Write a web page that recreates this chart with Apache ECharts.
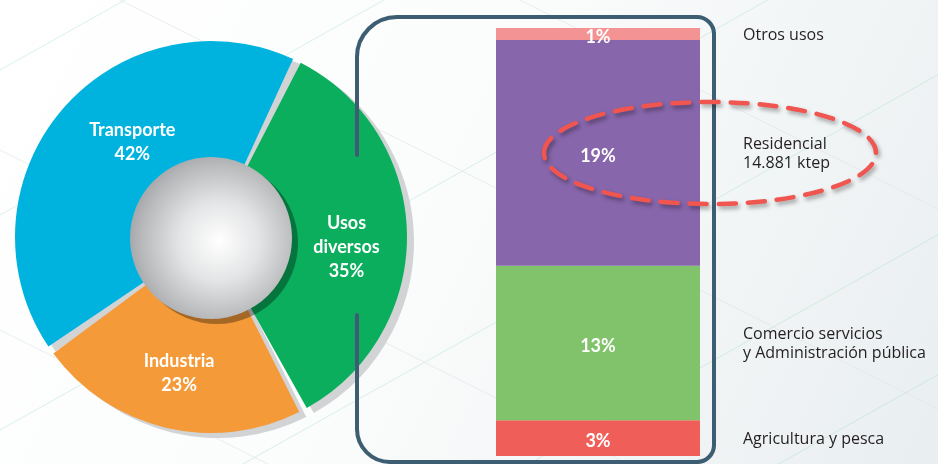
<!DOCTYPE html>
<html>
<head>
<meta charset="utf-8">
<script src="https://cdn.jsdelivr.net/npm/echarts@6/dist/echarts.min.js"></script>
<style>
  html, body { margin: 0; padding: 0; background: #ffffff; }
  #chart { width: 938px; height: 464px; }
</style>
</head>
<body>
<div id="chart"></div>
<script>
// Consumo final de energía por sector (%)
const sectorNames = ['Usos\ndiversos', 'Industria', 'Transporte'];
const sectorShares = [35, 23, 42];
const sectorColors = ['#0aae5c', '#f59a38', '#00b3df'];

// Desglose de los usos diversos (% del total)
const usoNames = ['Agricultura y pesca', 'Comercio servicios\ny Administración pública', 'Residencial\n14.881 ktep', 'Otros usos'];
const usoShares = [3, 13, 19, 1];
const usoColors = ['#f05e5a', '#80c36a', '#8766ab', '#f49393'];

// Column for the stacked bar and column holding the side captions
const stackColumns = ['barra', 'rotulos'];

const FONT = 'Lato, "Noto Sans", sans-serif';
const CAPTION_FONT = '"Open Sans", "Noto Sans", sans-serif';
const PIE_CENTER = [211, 237];
const PIE_RADIUS = [73, 196];
const START = 64;
const PAD = 2.5;
// nudges for the ring captions so they sit in the visual middle of each sector
const sectorLabelShift = [[-2, 13], [0, 2], [26, -6]];

const chart = echarts.init(document.getElementById('chart'), null, { renderer: 'canvas' });

function sectorData(colorFn, withLabel) {
  return sectorNames.map((n, i) => ({
    name: n,
    value: sectorShares[i],
    itemStyle: { color: colorFn(i) },
    label: withLabel ? { show: true, offset: sectorLabelShift[i] } : { show: false }
  }));
}

// Faint background texture lines
const bgLines = [];
[70, 215, 430, 600, 760, 900, 1060].forEach(c => {
  bgLines.push({ type: 'line', silent: true, z: -10,
    shape: { x1: 0, y1: c, x2: c / 0.56, y2: 0 },
    style: { stroke: '#9fdcc2', lineWidth: 0.7, opacity: 0.55 } });
});
[-260, -60, 150, 330, 520].forEach(c => {
  bgLines.push({ type: 'line', silent: true, z: -10,
    shape: { x1: 0, y1: c, x2: 938, y2: c + 938 * 0.5 },
    style: { stroke: '#dfe5e8', lineWidth: 0.8, opacity: 0.8 } });
});

// Rounded frame around the breakdown bar (left side broken where the ring passes)
const frame = { stroke: '#3d5e72', lineWidth: 4, fill: null, lineCap: 'round' };
const frameParts = [
  { type: 'line', shape: { x1: 397, y1: 17, x2: 697, y2: 17 } },
  { type: 'arc', shape: { cx: 697, cy: 34, r: 17, startAngle: 1.5 * Math.PI, endAngle: 2 * Math.PI, clockwise: true } },
  { type: 'line', shape: { x1: 714, y1: 34, x2: 714, y2: 445 } },
  { type: 'arc', shape: { cx: 697, cy: 445, r: 17, startAngle: 0, endAngle: 0.5 * Math.PI, clockwise: true } },
  { type: 'line', shape: { x1: 697, y1: 462, x2: 390, y2: 462 } },
  { type: 'arc', shape: { cx: 390, cy: 429, r: 33, startAngle: 0.5 * Math.PI, endAngle: Math.PI, clockwise: true } },
  { type: 'line', shape: { x1: 357, y1: 429, x2: 357, y2: 315 } },
  { type: 'line', shape: { x1: 357, y1: 155, x2: 357, y2: 57 } },
  { type: 'arc', shape: { cx: 397, cy: 57, r: 40, startAngle: Math.PI, endAngle: 1.5 * Math.PI, clockwise: true } }
].map(p => Object.assign(p, { silent: true, z: 5, style: Object.assign({}, frame) }));

const barSeries = usoShares.map((v, i) => ({
  type: 'bar',
  stack: 'usos',
  barWidth: '100%',
  barGap: '0%',
  silent: true,
  z: 3,
  data: [
    {
      value: v,
      itemStyle: { color: usoColors[i] },
      label: { show: true, position: 'inside', offset: [0, 3], formatter: v + '%', color: '#ffffff',
               fontFamily: FONT, fontWeight: 'bold', fontSize: 18 }
    },
    {
      value: v,
      itemStyle: { color: 'rgba(0,0,0,0)' },
      label: { show: true, position: 'insideLeft', distance: 43, offset: [0, 1], formatter: usoNames[i],
               color: '#231f20', fontFamily: CAPTION_FONT, fontSize: 16, lineHeight: 19, align: 'left' }
    }
  ]
}));

const option = {
  animation: false,
  backgroundColor: {
    type: 'linear', x: 0, y: 0, x2: 1, y2: 1,
    colorStops: [{ offset: 0, color: '#ffffff' }, { offset: 0.45, color: '#fbfcfc' }, { offset: 1, color: '#e9eef0' }]
  },
  grid: { left: 496, right: 34, top: 28, bottom: 8 },
  xAxis: { type: 'category', data: stackColumns, show: false, boundaryGap: true },
  yAxis: { type: 'value', min: 0, max: 36, show: false },
  graphic: bgLines.concat(frameParts).concat([
    {
      type: 'ellipse', silent: true, z: 6,
      shape: { cx: 710, cy: 153, rx: 166, ry: 51 },
      style: { fill: null, stroke: '#f0554f', lineWidth: 4.5, lineDash: [17, 12], lineCap: 'round',
               shadowBlur: 4, shadowColor: 'rgba(0,0,0,0.35)', shadowOffsetX: 2, shadowOffsetY: 3 }
    }
  ]),
  series: [
    {
      // drop shadow of the ring
      type: 'pie', silent: true, z: 1,
      center: [PIE_CENTER[0] + 7, PIE_CENTER[1] + 5], radius: PIE_RADIUS,
      startAngle: START, padAngle: PAD, clockwise: true,
      label: { show: false }, labelLine: { show: false },
      data: sectorData(() => '#d1d3d5', false)
    },
    {
      type: 'pie', silent: true, z: 2,
      center: PIE_CENTER, radius: PIE_RADIUS,
      startAngle: START, padAngle: PAD, clockwise: true,
      avoidLabelOverlap: false,
      label: { show: true, position: 'inside', color: '#ffffff', fontFamily: FONT,
               fontWeight: 'bold', fontSize: 18, lineHeight: 24,
               formatter: p => p.name + '\n' + p.value + '%' },
      labelLine: { show: false },
      data: sectorData(i => sectorColors[i], true)
    },
    {
      // shade cast by the central sphere
      type: 'pie', silent: true, z: 2,
      center: [PIE_CENTER[0] + 6, PIE_CENTER[1] + 6], radius: [0, 81],
      label: { show: false }, labelLine: { show: false },
      data: [{ value: 1, itemStyle: { color: 'rgba(0,0,0,0.33)' } }]
    },
    {
      // central sphere
      type: 'pie', silent: true, z: 2,
      center: [PIE_CENTER[0], PIE_CENTER[1] + 1], radius: [0, 81],
      label: { show: false }, labelLine: { show: false },
      data: [{ value: 1, itemStyle: { color: {
        type: 'radial', x: 0.55, y: 0.52, r: 0.55,
        colorStops: [
          { offset: 0, color: '#ffffff' },
          { offset: 0.45, color: '#e3e4e5' },
          { offset: 0.85, color: '#b9bbbd' },
          { offset: 1, color: '#a7a9ac' }
        ] } } }]
    }
  ].concat(barSeries)
};

chart.setOption(option);
</script>
</body>
</html>
